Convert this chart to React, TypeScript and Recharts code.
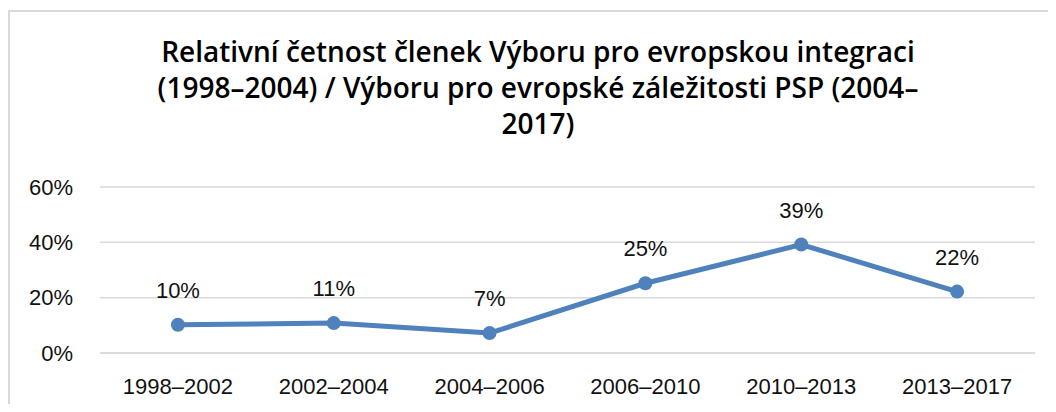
import React from "react";
import { LineChart, Line, XAxis, YAxis, CartesianGrid, LabelList } from "recharts";

const titleLines = [
  "Relativní četnost členek Výboru pro evropskou integraci",
  "(1998–2004) / Výboru pro evropské záležitosti PSP (2004–",
  "2017)",
];
const periods = ["1998–2002", "2002–2004", "2004–2006", "2006–2010", "2010–2013", "2013–2017"];
const shares = [0.102, 0.108, 0.072, 0.252, 0.392, 0.222];
const yTicks = [0, 0.2, 0.4, 0.6];

const data = periods.map((p, i) => ({ period: p, share: shares[i] }));

const W = 1040;
const H = 396;
const FONT = "'Liberation Sans', Arial, sans-serif";
const COLOR = "#4f81bd";

const pct = (v: number) => `${Math.round(v * 100)}%`;

const TopLabel = (props: any) => {
  const { x, y, value } = props;
  return (
    <text x={x} y={y - 27} textAnchor="middle" fontSize={22} fontFamily={FONT} fill="#111">
      {pct(value)}
    </text>
  );
};

export default function App() {
  return (
    <div style={{ position: "relative", width: W, height: H, overflow: "hidden" }}>
      <div
        style={{
          position: "absolute",
          left: 0,
          top: 2,
          width: W + 20,
          height: H + 20,
          borderLeft: "2px solid #d9d9d9",
          borderTop: "2px solid #d9d9d9",
          boxSizing: "border-box",
        }}
      />
      <div style={{ position: "absolute", left: 0, top: 0 }}>
        <LineChart width={W} height={H} data={data} margin={{ top: 179, right: 13, left: 0, bottom: 0 }}>
          <CartesianGrid vertical={false} stroke="#d9d9d9" strokeWidth={1.5} />
          <XAxis
            dataKey="period"
            scale="band"
            height={51}
            axisLine={{ stroke: "#d9d9d9", strokeWidth: 1.5 }}
            tickLine={false}
            tickSize={0}
            tickMargin={25}
            interval={0}
            tick={{ fontSize: 22, fontFamily: FONT, fill: "#111" }}
          />
          <YAxis
            width={92}
            domain={[0, 0.6]}
            ticks={yTicks}
            tickFormatter={pct}
            axisLine={false}
            tickLine={false}
            tickSize={0}
            tickMargin={27}
            tick={{ fontSize: 22, fontFamily: FONT, fill: "#111" }}
          />
          <Line
            type="linear"
            dataKey="share"
            stroke={COLOR}
            strokeWidth={5}
            dot={{ r: 7, fill: COLOR, stroke: COLOR, strokeWidth: 0 }}
            activeDot={false}
            isAnimationActive={false}
          >
            <LabelList dataKey="share" content={<TopLabel />} />
          </Line>
        </LineChart>
      </div>
      <svg width={W} height={H} style={{ position: "absolute", left: 0, top: 0, pointerEvents: "none" }}>
        {titleLines.map((t, i) => (
          <text
            key={i}
            x={530}
            y={54 + i * 36.2}
            textAnchor="middle"
            fontSize={28}
            fontWeight={600}
            fontFamily="'Open Sans', Lato, sans-serif"
            fill="#000"
          >
            {t}
          </text>
        ))}
      </svg>
    </div>
  );
}
